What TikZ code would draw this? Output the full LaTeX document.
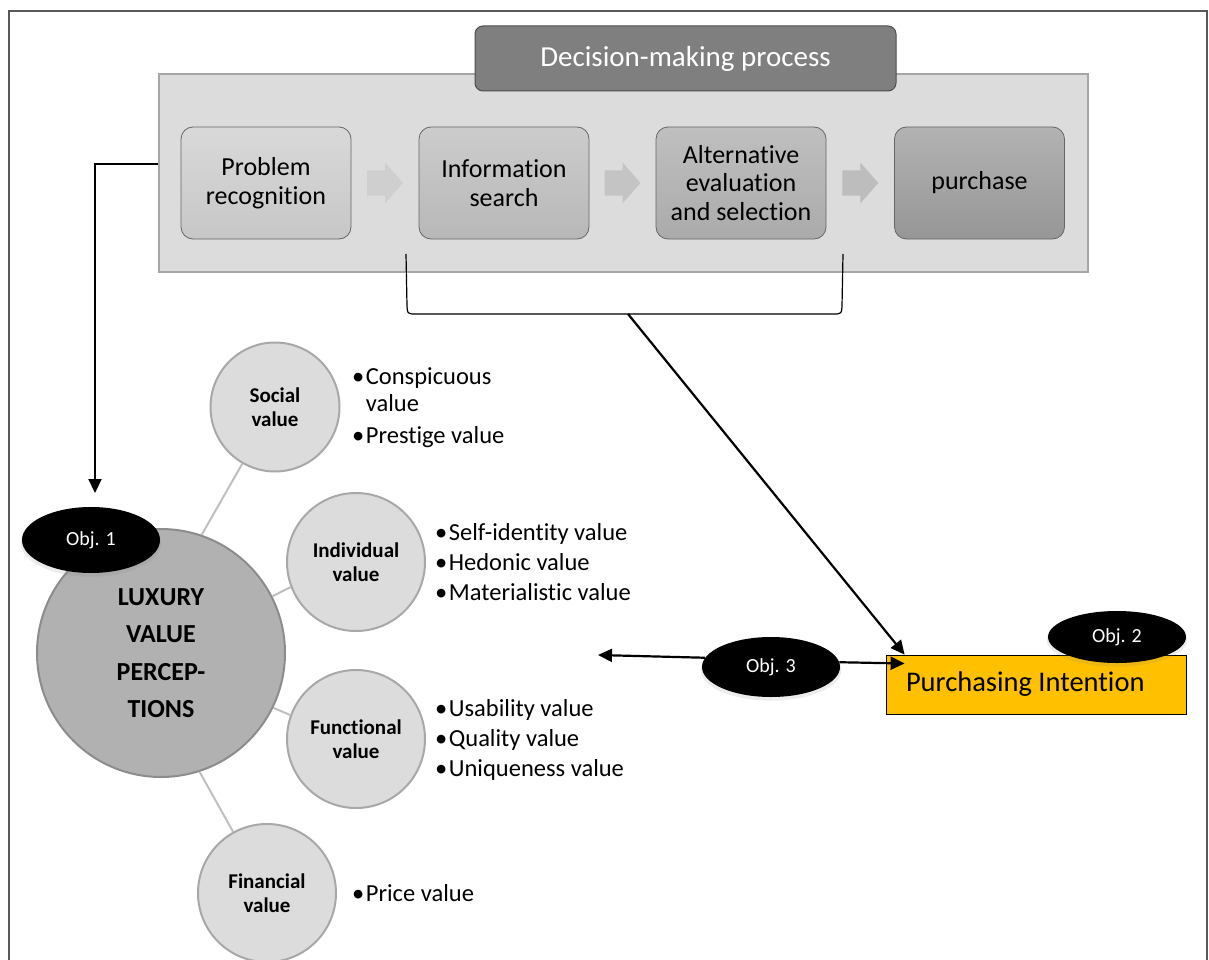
\documentclass[tikz,border=0pt]{standalone}
\usepackage{fontspec}
\setmainfont{Carlito}[Ligatures=NoCommon]
\usetikzlibrary{shapes.geometric,arrows.meta,shadows,calc}

\definecolor{framegray}{HTML}{595959}
\definecolor{panelfill}{HTML}{DCDCDC}
\definecolor{panelline}{HTML}{A6A6A6}
\definecolor{headfill}{HTML}{7F7F7F}
\definecolor{headline}{HTML}{4D4D4D}
\definecolor{bigfill}{HTML}{B1B1B1}
\definecolor{bigline}{HTML}{8C8C8C}
\definecolor{smallfill}{HTML}{DCDCDC}
\definecolor{smallline}{HTML}{A8A8A8}
\definecolor{spokegray}{HTML}{BFBFBF}
\definecolor{intent}{HTML}{FFC000}

\newcommand\bul{•\hspace{1.5pt}}
\newcommand\indentbul{\phantom{•}\hspace{1.5pt}}

\tikzset{
  panel/.style={draw=panelline, fill=panelfill, line width=2pt,
    minimum width=929pt, minimum height=198pt, inner sep=0pt},
  header/.style={rounded corners=8pt, fill=headfill, draw=headline, line width=1pt,
    minimum width=421pt, minimum height=65pt, text=white,
    font=\fontsize{29}{32}\selectfont},
  stepbox/.style={rounded corners=12pt, draw=black!60, line width=0.8pt,
    minimum width=170pt, minimum height=112pt, align=center,
    font=\fontsize{26}{28.5}\selectfont},
  chev/.pic={\fill[pic actions] (0,-12.5) -- (18,-12.5) -- (18,-20.5) -- (36,0)
    -- (18,20.5) -- (18,12.5) -- (0,12.5) -- cycle;},
  bigcirc/.style={circle, fill=bigfill, draw=bigline, line width=2pt,
    minimum size=248pt, inner sep=0pt, align=center,
    font=\fontsize{26}{37.5}\selectfont\bfseries},
  valcirc/.style={circle, fill=smallfill, draw=smallline, line width=2pt,
    minimum size=138pt, inner sep=0pt, align=center,
    font=\fontsize{21}{23.5}\selectfont\bfseries},
  spoke/.style={draw=spokegray, line width=2pt},
  bullets/.style={anchor=west, inner sep=0pt, align=left,
    font=\fontsize{24.5}{30}\selectfont},
  objtag/.style={ellipse, fill=black, minimum width=138pt, minimum height=62pt,
    inner sep=0pt, text=white, font=\fontsize{20}{22}\selectfont,
    drop shadow={opacity=0.15, shadow xshift=0pt, shadow yshift=-3pt, shadow scale=1.02}},
  conn/.style={draw=black, line width=2.2pt, -{Triangle[length=14pt,width=13pt]}},
  bracketline/.style={draw=black, line width=1.2pt},
}

\begin{document}
\begin{tikzpicture}[x=1pt,y=-1pt]
\useasboundingbox (0,0) rectangle (1209,960);

% outer frame
\draw[framegray, line width=2pt] (9,980) -- (9,11) -- (1207,11) -- (1207,980);

% decision-making process panel
\node[panel] (panel) at (623.5,173) {};
\node[header] (head) at (685.5,58.5) {Decision-making process};

\node[stepbox, top color=black!15, bottom color=black!22] (prob) at (266,183) {Problem\\recognition};
\node[stepbox, top color=black!20, bottom color=black!28] (info) at (504,183) {Information\\search};
\node[stepbox, top color=black!25, bottom color=black!33] (alt) at (741,183) {Alternative\\evaluation\\and selection};
\node[stepbox, top color=black!30, bottom color=black!41] (purch) at (979.5,183) {purchase};

\draw[black, line width=2.5pt] ($(head.south)+(-7.5,0)$) -- ($(head.south)+(-7.5,0)$ |- alt.north);

\pic[fill=black!19] at ($(prob.east)!.5!(info.west)+(-18,0)$) {chev};
\pic[fill=black!23] at ($(info.east)!.5!(alt.west)+(-18,0)$) {chev};
\pic[fill=black!26] at ($(alt.east)!.5!(purch.west)+(-18,0)$) {chev};

% bracket under the middle steps
\coordinate (bl) at (406,254);
\coordinate (br) at (843,254);
\coordinate (bm) at (628,314);
\draw[bracketline] (bl) -- (407,306) .. controls (407.5,313) .. (412,314)
  -- (837,314) .. controls (841.5,313) .. (842,306) -- (br);

% luxury value perceptions
\node[bigcirc] (lux) at (161,653) {LUXURY\\VALUE\\PERCEP-\\TIONS};
\node[valcirc, minimum size=129pt] (social) at (275,407) {Social\\value};
\node[valcirc] (indiv) at (356,562) {Individual\\value};
\node[valcirc] (func) at (356,739) {Functional\\value};
\node[valcirc] (fin) at (267,893) {Financial\\value};

\draw[spoke] (lux.71) -- (social.240);
\draw[spoke] (lux.27) -- (indiv.201);
\draw[spoke] (lux.-26) -- (func.160);
\draw[spoke] (lux.-72) -- (fin.119);

\node[bullets, font=\fontsize{24.5}{27}\selectfont] (socl) at (352,408)
  {\bul Conspicuous\\\indentbul value\\[5pt]\bul Prestige value};
\node[bullets] (indl) at (435,562)
  {\bul Self-identity value\\\bul Hedonic value\\\bul Materialistic value};
\node[bullets] (funl) at (435,740)
  {\bul Usability value\\\bul Quality value\\\bul Uniqueness value};
\node[bullets] (finl) at (352,893) {\bul Price value};

% purchasing intention and objectives
\node[draw=black, line width=0.8pt, fill=intent, minimum width=300pt, minimum height=59pt,
  inner xsep=20pt, font=\fontsize{28.5}{30}\selectfont] (pi) at (1036,684.5)
  {\makebox[260pt][l]{Purchasing Intention}};

\coordinate (obj1top) at (95,493);
\coordinate (leftend) at (598,655);
\coordinate (pitop) at ($(pi.north west)+(19,0)$);
\coordinate (piin) at ($(pi.west)+(19,-21)$);

\draw[conn] ($(panel.west)+(0,-9)$) -| (obj1top);
\draw[conn] (bm) -- (pitop);

\node[objtag, minimum height=66pt] (obj1) at (91,540) {Obj. 1};
\node[objtag, minimum height=60pt] (obj3) at (771,667) {Obj. 3};
\node[objtag, minimum height=52pt] (obj2) at (1117,637) {Obj. 2};

\draw[conn] (obj3.172) -- (leftend);
\draw[conn] (obj3.4) -- (piin);
\end{tikzpicture}
\end{document}
